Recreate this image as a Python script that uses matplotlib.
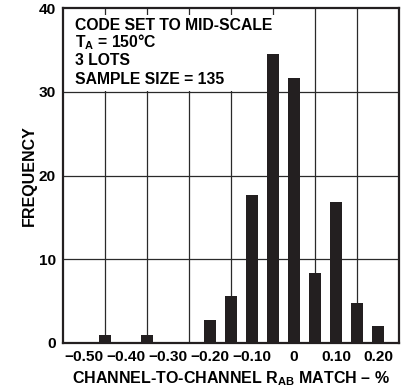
import matplotlib
matplotlib.use('Agg')
import matplotlib.pyplot as plt
from matplotlib.patches import Rectangle

plt.rcParams['font.family'] = ['Liberation Sans', 'DejaVu Sans']
plt.rcParams['font.weight'] = 'bold'
plt.rcParams['mathtext.fontset'] = 'custom'
plt.rcParams['mathtext.rm'] = 'Liberation Sans:bold'
plt.rcParams['mathtext.bf'] = 'Liberation Sans:bold'
plt.rcParams['mathtext.default'] = 'bf'

# histogram
match_pct = [-0.45, -0.35, -0.20, -0.15, -0.10, -0.05, 0.0, 0.05, 0.10, 0.15, 0.20]
frequency = [1.0, 1.0, 2.8, 5.6, 17.7, 34.5, 31.7, 8.4, 16.8, 4.8, 2.0]

xtick_vals = [-0.50, -0.40, -0.30, -0.20, -0.10, 0.0, 0.10, 0.20]
xtick_labels = ['\u22120.50', '\u22120.40', '\u22120.30', '\u22120.20', '\u22120.10', '0', '0.10', '0.20']
xgrid_vals = [-0.45, -0.35, -0.25, -0.15, -0.05, 0.05, 0.15]
yticks = [0, 10, 20, 30, 40]

notes = ['CODE SET TO MID-SCALE', 'T$_{A}$ = 150\u00b0C', '3 LOTS', 'SAMPLE SIZE = 135']
note_y = [37.35, 35.3, 33.15, 30.9]

fig = plt.figure(figsize=(4.10, 3.91), dpi=100)
ax = fig.add_axes([63 / 410, 48 / 391, 336 / 410, 335 / 391])

ax.set_xlim(-0.55, 0.25)
ax.set_ylim(0, 40)

# grid lines (vertical ones sit between the labelled ticks)
for gx in xgrid_vals:
    ax.axvline(gx, color='#2a2a2a', lw=0.9, zorder=1)
for gy in yticks[1:-1]:
    ax.axhline(gy, color='#2a2a2a', lw=0.9, zorder=1)

# white note box covering the grid in the upper-left corner
ax.add_patch(Rectangle((-0.55, 30.12), 0.53, 9.05, facecolor='white',
                       edgecolor='none', zorder=2))

ax.bar(match_pct, frequency, width=0.027, color='#231f20', edgecolor='none', zorder=3)

for line, y in zip(notes, note_y):
    ax.text(-0.522, y, line, fontsize=11.3, fontweight='bold',
            va='baseline', ha='left', zorder=4)

ax.set_xticks(xtick_vals)
ax.set_xticklabels(xtick_labels)
ax.set_yticks(yticks)
ax.tick_params(length=0, labelsize=11.1, pad=5)
for lab in ax.get_xticklabels() + ax.get_yticklabels():
    lab.set_fontweight('bold')

for s in ax.spines.values():
    s.set_linewidth(1.6)
    s.set_color('#231f20')
    s.set_zorder(5)

ax.set_ylabel('FREQUENCY', fontsize=11.5, fontweight='bold')
ax.yaxis.set_label_coords(-0.077, 0.5)
ax.set_xlabel('CHANNEL-TO-CHANNEL R$_{AB}$ MATCH \u2013 %', fontsize=11.5,
              fontweight='bold', labelpad=4)

fig.savefig('out.png', dpi=100)
